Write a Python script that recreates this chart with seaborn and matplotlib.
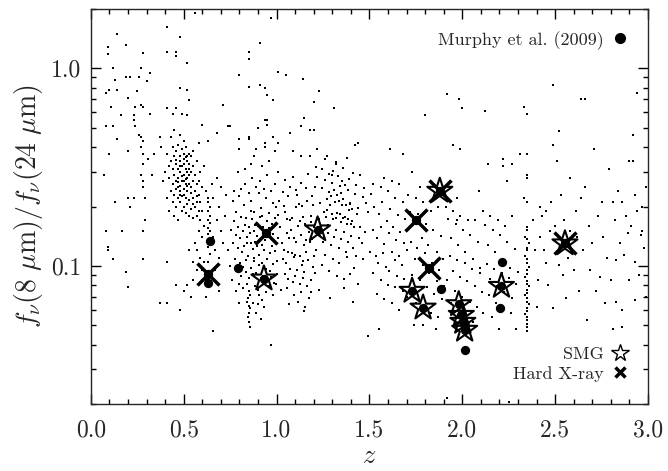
import matplotlib
matplotlib.use("Agg")
import matplotlib.pyplot as plt
from matplotlib.lines import Line2D
from matplotlib.ticker import MultipleLocator, FixedLocator, LogLocator, NullFormatter, FormatStrFormatter
import numpy as np
import pandas as pd
import seaborn as sns

# field galaxies (z, f8/f24)
field_lowz = [
    (0.09, 1.29), (0.14, 1.49), (0.09, 1.18), (0.19, 1.32), (0.12, 1.01), (0.08, 0.75), (0.10, 0.78), (0.13, 0.87), (0.14, 0.78), (0.11, 0.64),
    (0.08, 0.51), (0.12, 0.51), (0.10, 0.37), (0.07, 0.29), (0.13, 0.21), (0.08, 0.15), (0.17, 0.15), (0.16, 0.58), (0.14, 0.44), (0.19, 0.90),
    (0.21, 0.91), (0.20, 0.71), (0.25, 0.77), (0.26, 0.91), (0.28, 1.20), (0.27, 1.00), (0.30, 0.86), (0.32, 0.95), (0.24, 0.64), (0.27, 0.65),
    (0.28, 0.64), (0.23, 0.58), (0.23, 0.55), (0.24, 0.51), (0.26, 0.46), (0.27, 0.45), (0.28, 0.43), (0.27, 0.40), (0.28, 0.37), (0.28, 0.33),
    (0.27, 0.29), (0.28, 0.27), (0.28, 0.25), (0.29, 0.22), (0.20, 0.38), (0.20, 0.22), (0.23, 0.22), (0.21, 0.20), (0.29, 0.17), (0.32, 0.59),
    (0.31, 0.35), (0.34, 0.37), (0.33, 0.29), (0.09, 0.125), (0.09, 0.12), (0.12, 0.109), (0.19, 0.093), (0.20, 0.078), (0.28, 0.109), (0.28, 0.15),
    (0.37, 0.065), (0.41, 0.065), (0.41, 0.105),
]
field_upper_low = [
    (0.41, 1.63), (0.41, 1.21), (0.46, 1.21), (0.46, 1.15), (0.48, 1.45), (0.52, 1.06), (0.48, 0.80), (0.52, 0.78), (0.53, 0.69), (0.56, 1.90),
    (0.41, 0.63), (0.44, 0.59), (0.46, 0.63), (0.49, 0.59), (0.52, 0.58), (0.60, 0.52), (0.45, 0.49), (0.43, 0.45), (0.48, 0.46), (0.50, 0.43),
    (0.63, 0.43), (0.68, 0.47), (0.71, 0.65), (0.75, 0.51), (0.37, 0.45), (0.38, 0.40), (0.58, 0.42), (0.61, 0.32),
]
field_peak05 = [
    (0.44, 0.40), (0.46, 0.38), (0.47, 0.41), (0.49, 0.39), (0.51, 0.40), (0.53, 0.37), (0.45, 0.36), (0.48, 0.36), (0.50, 0.35), (0.52, 0.34),
    (0.54, 0.36), (0.43, 0.34), (0.46, 0.33), (0.47, 0.31), (0.49, 0.32), (0.51, 0.31), (0.53, 0.33), (0.55, 0.32), (0.44, 0.31), (0.42, 0.32),
    (0.45, 0.29), (0.47, 0.28), (0.48, 0.30), (0.50, 0.29), (0.52, 0.28), (0.54, 0.30), (0.56, 0.29), (0.46, 0.27), (0.49, 0.27), (0.51, 0.26),
    (0.53, 0.26), (0.55, 0.27), (0.57, 0.26), (0.44, 0.26), (0.47, 0.25), (0.48, 0.24), (0.50, 0.245), (0.52, 0.24), (0.54, 0.235), (0.56, 0.24),
    (0.45, 0.23), (0.47, 0.22), (0.49, 0.225), (0.51, 0.22), (0.53, 0.215), (0.55, 0.22), (0.57, 0.21), (0.58, 0.23), (0.48, 0.21), (0.50, 0.20),
    (0.52, 0.205), (0.54, 0.195), (0.56, 0.20), (0.58, 0.19), (0.59, 0.21), (0.46, 0.20), (0.49, 0.19), (0.51, 0.185), (0.53, 0.18), (0.55, 0.175),
    (0.57, 0.18), (0.59, 0.17), (0.60, 0.19), (0.48, 0.34), (0.50, 0.33), (0.46, 0.345), (0.52, 0.30), (0.49, 0.285), (0.51, 0.275), (0.47, 0.265),
    (0.53, 0.29), (0.50, 0.27), (0.48, 0.255), (0.52, 0.255), (0.46, 0.245), (0.54, 0.25), (0.50, 0.23), (0.48, 0.23), (0.55, 0.205), (0.57, 0.225),
    (0.41, 0.37), (0.40, 0.30), (0.39, 0.27), (0.42, 0.28), (0.43, 0.24), (0.41, 0.22), (0.44, 0.21), (0.42, 0.19), (0.45, 0.18), (0.47, 0.17),
    (0.58, 0.27), (0.60, 0.25), (0.59, 0.30), (0.57, 0.34), (0.55, 0.38), (0.50, 0.37), (0.52, 0.36), (0.48, 0.32), (0.51, 0.355), (0.53, 0.31),
]
field_z06 = [
    (0.63, 0.22), (0.63, 0.21), (0.64, 0.20), (0.63, 0.19), (0.64, 0.18), (0.63, 0.17), (0.64, 0.165), (0.63, 0.155), (0.64, 0.15), (0.63, 0.145),
    (0.63, 0.125), (0.64, 0.115), (0.63, 0.105), (0.62, 0.24), (0.61, 0.16), (0.60, 0.14), (0.58, 0.15), (0.56, 0.13), (0.57, 0.12), (0.59, 0.11),
    (0.55, 0.105), (0.57, 0.095), (0.55, 0.085), (0.61, 0.105), (0.60, 0.095), (0.62, 0.085), (0.66, 0.14), (0.67, 0.12), (0.68, 0.17), (0.69, 0.20),
    (0.66, 0.22), (0.70, 0.15), (0.71, 0.13), (0.69, 0.11), (0.67, 0.095), (0.72, 0.18), (0.73, 0.23), (0.70, 0.25), (0.65, 0.26), (0.68, 0.28),
    (0.52, 0.08), (0.54, 0.07), (0.50, 0.075), (0.46, 0.08), (0.48, 0.06), (0.60, 0.085), (0.69, 0.075), (0.66, 0.047), (0.62, 0.07), (0.53, 0.12),
]
field_z08 = [
    (0.763, 0.214), (0.784, 0.187), (0.797, 0.226), (0.823, 0.203), (0.838, 0.176), (0.864, 0.213), (0.877, 0.188), (0.903, 0.234), (0.917, 0.197), (0.944, 0.221),
    (0.957, 0.186), (0.982, 0.209), (0.996, 0.198), (0.772, 0.169), (0.793, 0.158), (0.806, 0.178), (0.829, 0.162), (0.853, 0.157), (0.868, 0.173), (0.886, 0.161),
    (0.912, 0.177), (0.928, 0.158), (0.951, 0.168), (0.974, 0.163), (0.991, 0.176), (0.757, 0.152), (0.781, 0.143), (0.803, 0.138), (0.817, 0.151), (0.842, 0.141),
    (0.858, 0.147), (0.883, 0.133), (0.897, 0.142), (0.923, 0.128), (0.938, 0.136), (0.962, 0.141), (0.978, 0.127), (1.007, 0.139), (0.768, 0.131), (0.792, 0.124),
    (0.814, 0.118), (0.827, 0.127), (0.846, 0.113), (0.873, 0.122), (0.893, 0.126), (0.906, 0.114), (0.932, 0.121), (0.948, 0.108), (0.967, 0.117), (0.993, 0.119),
    (0.778, 0.109), (0.802, 0.104), (0.819, 0.099), (0.837, 0.107), (0.861, 0.098), (0.878, 0.106), (0.904, 0.101), (0.919, 0.104), (0.941, 0.097), (0.963, 0.094),
    (0.979, 0.102), (1.003, 0.106), (0.788, 0.094), (0.809, 0.089), (0.833, 0.093), (0.852, 0.087), (0.871, 0.091), (0.891, 0.092), (0.914, 0.087), (0.927, 0.089),
    (0.954, 0.084), (0.971, 0.088), (0.988, 0.082), (0.798, 0.081), (0.818, 0.077), (0.839, 0.081), (0.851, 0.075), (0.856, 0.071), (0.848, 0.069), (0.843, 0.066),
    (0.852, 0.063), (0.857, 0.061), (0.849, 0.058), (0.844, 0.055), (0.853, 0.052), (0.858, 0.049), (0.884, 0.079), (0.898, 0.076), (0.908, 0.071), (0.922, 0.067),
    (0.902, 0.064), (0.934, 0.062), (0.943, 0.074), (0.958, 0.079), (0.983, 0.071), (0.998, 0.081), (0.892, 0.058), (0.918, 0.054), (0.968, 0.040), (0.874, 0.065),
    (0.75, 0.10), (0.74, 0.12), (0.76, 0.085), (0.78, 0.075), (0.80, 0.065), (0.77, 0.24), (0.81, 0.245), (0.85, 0.235), (0.89, 0.25), (0.93, 0.245),
    (0.97, 0.24), (0.83, 0.26), (0.87, 0.28), (0.91, 0.27), (0.95, 0.29), (0.99, 0.26), (0.79, 0.30), (0.92, 0.32), (0.96, 0.34), (0.88, 0.36),
    (0.94, 0.40), (0.98, 0.45), (0.90, 0.50), (0.95, 0.55), (0.85, 0.44), (0.80, 0.39), (0.86, 0.33), (0.83, 0.31), (1.01, 0.30), (0.99, 0.38),
    (0.86, 0.19), (0.88, 0.15), (0.90, 0.16), (0.92, 0.18), (0.94, 0.15), (0.96, 0.155), (0.98, 0.145), (0.84, 0.13), (0.86, 0.13), (0.88, 0.11),
]
field_upper_mid = [
    (0.80, 0.93), (0.85, 1.11), (0.85, 1.21), (0.91, 1.34), (0.97, 1.79), (1.01, 0.96), (1.05, 0.93), (0.85, 0.81), (0.91, 0.82), (0.94, 0.80),
    (0.98, 0.69), (0.95, 0.73), (1.14, 0.88), (1.20, 0.68), (1.23, 0.77), (1.15, 0.56), (1.13, 0.51), (1.18, 0.49), (1.20, 0.49), (1.31, 0.63),
    (0.74, 0.51), (0.80, 0.44), (0.85, 0.45), (0.89, 0.39), (0.94, 0.55), (0.95, 0.52), (0.94, 0.42), (1.01, 0.42), (1.07, 0.47), (1.09, 0.38),
    (1.13, 0.36), (1.18, 0.36), (1.22, 0.39), (1.27, 0.36), (1.30, 0.29), (1.32, 0.33),
]
field_z10 = [
    (1.013, 0.214), (1.047, 0.187), (1.062, 0.226), (1.085, 0.176), (1.103, 0.198), (1.128, 0.168), (1.137, 0.201), (1.164, 0.213), (1.186, 0.179), (1.021, 0.158),
    (1.058, 0.147), (1.071, 0.171), (1.092, 0.138), (1.116, 0.159), (1.133, 0.143), (1.152, 0.163), (1.174, 0.149), (1.193, 0.137), (1.028, 0.131), (1.039, 0.121),
    (1.066, 0.139), (1.081, 0.117), (1.107, 0.133), (1.124, 0.112), (1.146, 0.128), (1.158, 0.118), (1.179, 0.133), (1.034, 0.108), (1.052, 0.103), (1.074, 0.097),
    (1.096, 0.111), (1.112, 0.095), (1.138, 0.101), (1.149, 0.093), (1.171, 0.107), (1.197, 0.099), (1.043, 0.091), (1.061, 0.086), (1.088, 0.083), (1.101, 0.089),
    (1.127, 0.081), (1.142, 0.087), (1.163, 0.079), (1.184, 0.085), (1.054, 0.077), (1.093, 0.071), (1.132, 0.074), (1.176, 0.069), (1.068, 0.064), (1.153, 0.062),
    (1.036, 0.238), (1.073, 0.252), (1.109, 0.229), (1.156, 0.247), (1.191, 0.226), (1.048, 0.272), (1.087, 0.283), (1.134, 0.262), (1.172, 0.291), (1.008, 0.182),
    (1.098, 0.114), (1.063, 0.118), (1.141, 0.106), (1.203, 0.112), (1.206, 0.092), (1.201, 0.158), (1.198, 0.203), (1.119, 0.207), (1.041, 0.202), (1.079, 0.153),
    (1.161, 0.136), (1.183, 0.167), (1.004, 0.091), (1.025, 0.076), (1.114, 0.066), (1.188, 0.074), (1.057, 0.172), (1.143, 0.178), (1.104, 0.243), (1.148, 0.059),
]
field_z12 = [
    (1.218, 0.283), (1.243, 0.247), (1.262, 0.274), (1.284, 0.236), (1.297, 0.262), (1.323, 0.228), (1.341, 0.253), (1.357, 0.218), (1.384, 0.243), (1.398, 0.209),
    (1.424, 0.232), (1.437, 0.197), (1.463, 0.224), (1.232, 0.208), (1.256, 0.188), (1.273, 0.219), (1.288, 0.203), (1.314, 0.212), (1.327, 0.186), (1.353, 0.204),
    (1.366, 0.178), (1.392, 0.193), (1.407, 0.168), (1.433, 0.183), (1.452, 0.158), (1.226, 0.172), (1.238, 0.157), (1.267, 0.177), (1.279, 0.162), (1.306, 0.173),
    (1.318, 0.152), (1.347, 0.167), (1.362, 0.148), (1.378, 0.163), (1.403, 0.142), (1.417, 0.157), (1.446, 0.138), (1.234, 0.142), (1.251, 0.133), (1.276, 0.147),
    (1.293, 0.128), (1.309, 0.141), (1.336, 0.123), (1.348, 0.137), (1.374, 0.118), (1.386, 0.132), (1.413, 0.124), (1.428, 0.113), (1.214, 0.121), (1.263, 0.114),
    (1.302, 0.108), (1.338, 0.104), (1.381, 0.111), (1.419, 0.098), (1.247, 0.101), (1.284, 0.094), (1.326, 0.089), (1.361, 0.086), (1.396, 0.091), (1.441, 0.081),
    (1.303, 0.302), (1.331, 0.287), (1.359, 0.314), (1.388, 0.277), (1.412, 0.297), (1.352, 0.268), (1.281, 0.292), (1.247, 0.309), (1.429, 0.258), (1.472, 0.247),
    (1.312, 0.243), (1.346, 0.234), (1.371, 0.257), (1.334, 0.214), (1.394, 0.206), (1.291, 0.226), (1.269, 0.193), (1.408, 0.194), (1.373, 0.203), (1.339, 0.183),
    (1.298, 0.184), (1.358, 0.174), (1.321, 0.176), (1.383, 0.172), (1.401, 0.163), (1.458, 0.131), (1.477, 0.149), (1.468, 0.109), (1.493, 0.188), (1.209, 0.252),
    (1.231, 0.076), (1.364, 0.077), (1.286, 0.069), (1.411, 0.066), (1.318, 0.338), (1.262, 0.347), (1.448, 0.288), (1.379, 0.352), (1.212, 0.318), (1.482, 0.208),
]
field_z15_23 = [
    (1.508, 0.232), (1.527, 0.198), (1.553, 0.183), (1.568, 0.212), (1.594, 0.168), (1.612, 0.194), (1.626, 0.157), (1.654, 0.181), (1.667, 0.148), (1.693, 0.172),
    (1.517, 0.153), (1.542, 0.138), (1.561, 0.157), (1.577, 0.129), (1.603, 0.147), (1.619, 0.118), (1.642, 0.136), (1.658, 0.113), (1.684, 0.131), (1.702, 0.121),
    (1.504, 0.118), (1.533, 0.112), (1.548, 0.103), (1.574, 0.116), (1.592, 0.099), (1.608, 0.094), (1.637, 0.107), (1.649, 0.089), (1.673, 0.101), (1.688, 0.086),
    (1.52, 0.092), (1.56, 0.085), (1.60, 0.08), (1.64, 0.078), (1.68, 0.075), (1.54, 0.072), (1.58, 0.068), (1.62, 0.065), (1.66, 0.06), (1.70, 0.07),
    (1.52, 0.26), (1.56, 0.25), (1.60, 0.24), (1.64, 0.22), (1.68, 0.21), (1.58, 0.28), (1.62, 0.27), (1.66, 0.26), (1.55, 0.048), (1.49, 0.044),
    (1.716, 0.188), (1.737, 0.162), (1.763, 0.183), (1.781, 0.139), (1.804, 0.164), (1.818, 0.128), (1.843, 0.152), (1.862, 0.118), (1.884, 0.142), (1.897, 0.109),
    (1.724, 0.132), (1.746, 0.108), (1.757, 0.123), (1.786, 0.101), (1.797, 0.117), (1.823, 0.092), (1.838, 0.103), (1.866, 0.084), (1.873, 0.096), (1.904, 0.079),
    (1.73, 0.09), (1.77, 0.085), (1.81, 0.078), (1.85, 0.072), (1.89, 0.068), (1.75, 0.065), (1.79, 0.06), (1.83, 0.058), (1.87, 0.055), (1.74, 0.050),
    (1.923, 0.172), (1.938, 0.138), (1.964, 0.163), (1.977, 0.128), (2.004, 0.152), (2.017, 0.118), (2.043, 0.143), (2.058, 0.108), (2.084, 0.132), (2.097, 0.098),
    (1.934, 0.112), (1.948, 0.094), (1.972, 0.107), (1.987, 0.088), (2.013, 0.103), (2.027, 0.084), (2.053, 0.097), (2.066, 0.079), (2.093, 0.092), (2.108, 0.074),
    (1.92, 0.085), (1.96, 0.075), (2.00, 0.07), (2.04, 0.066), (2.08, 0.062), (1.94, 0.065), (1.98, 0.058), (2.02, 0.055), (2.06, 0.052), (1.92, 0.0215),
    (2.123, 0.162), (2.137, 0.128), (2.164, 0.152), (2.176, 0.118), (2.204, 0.143), (2.218, 0.108), (2.243, 0.133), (2.257, 0.098), (2.284, 0.122), (2.298, 0.093),
    (2.132, 0.102), (2.147, 0.086), (2.173, 0.097), (2.186, 0.079), (2.212, 0.092), (2.227, 0.074), (2.253, 0.087), (2.268, 0.069), (2.292, 0.081), (2.142, 0.071),
    (2.18, 0.065), (2.22, 0.06), (2.26, 0.058), (2.29, 0.048), (2.20, 0.048), (2.25, 0.0206), (2.16, 0.055), (2.11, 0.058), (1.86, 0.048), (1.79, 0.05),
    (1.71, 0.23), (1.75, 0.22), (1.79, 0.21), (1.83, 0.19), (1.87, 0.20), (1.91, 0.20), (1.95, 0.19), (1.99, 0.18), (2.03, 0.17), (2.07, 0.17),
    (2.11, 0.19), (2.15, 0.18), (2.19, 0.17), (2.23, 0.16), (2.27, 0.18), (2.09, 0.24), (2.24, 0.27), (1.77, 0.25), (1.73, 0.30), (1.97, 0.22),
]
field_upper_high = [
    (1.92, 0.74), (1.98, 0.70), (2.00, 0.63), (1.80, 0.58), (2.12, 0.61), (2.33, 0.64), (2.35, 0.59), (2.49, 0.82), (2.52, 0.48), (2.64, 0.70),
    (2.66, 0.70), (2.94, 0.75), (2.92, 0.46), (1.31, 0.63), (1.42, 0.41), (1.44, 0.42), (1.61, 0.39), (1.68, 0.37), (1.95, 0.41), (1.99, 0.39),
    (2.35, 0.37), (2.31, 0.37), (2.49, 0.41), (2.51, 0.34), (2.71, 0.39), (2.90, 0.34), (2.92, 0.34), (2.99, 0.25), (2.14, 0.33), (2.22, 0.35),
    (2.27, 0.33), (2.22, 0.32), (2.35, 0.28), (2.35, 0.29), (2.58, 0.28), (2.66, 0.25), (2.79, 0.31), (2.81, 0.21), (2.86, 0.21), (2.97, 0.20),
    (2.42, 0.20), (2.45, 0.19), (2.33, 0.22), (2.35, 0.21), (2.24, 0.27), (2.07, 0.17), (1.97, 0.17), (1.91, 0.20),
]
field_spike235 = [
    (2.35, 0.158), (2.35, 0.152), (2.34, 0.141), (2.35, 0.137), (2.36, 0.131), (2.35, 0.124), (2.35, 0.121), (2.34, 0.113), (2.35, 0.109), (2.35, 0.104),
    (2.36, 0.099), (2.35, 0.096), (2.35, 0.091), (2.34, 0.088), (2.35, 0.084), (2.35, 0.081), (2.36, 0.079), (2.35, 0.076), (2.35, 0.073), (2.34, 0.071),
    (2.35, 0.069), (2.35, 0.066), (2.36, 0.064), (2.35, 0.061), (2.35, 0.059), (2.34, 0.057), (2.35, 0.055), (2.35, 0.053), (2.35, 0.051), (2.35, 0.049),
    (2.35, 0.047),
]
field_z24_30 = [
    (2.67, 0.053), (2.81, 0.048), (2.86, 0.049), (2.56, 0.069), (2.40, 0.062), (2.49, 0.061), (2.86, 0.060), (2.93, 0.067), (2.83, 0.066), (2.74, 0.088),
    (2.80, 0.085), (2.93, 0.105), (2.87, 0.114), (2.83, 0.107), (2.63, 0.075), (2.60, 0.095), (2.45, 0.103), (2.52, 0.101), (2.98, 0.123), (2.96, 0.143),
    (2.89, 0.147), (2.42, 0.14), (2.44, 0.12), (2.47, 0.15), (2.50, 0.16), (2.55, 0.17), (2.58, 0.15), (2.62, 0.14), (2.65, 0.12), (2.68, 0.16),
    (2.70, 0.13), (2.73, 0.18), (2.76, 0.14), (2.78, 0.11), (2.82, 0.17), (2.85, 0.13), (2.88, 0.18), (2.91, 0.16), (2.94, 0.19), (2.97, 0.15),
    (2.41, 0.085), (2.46, 0.08), (2.54, 0.09), (2.57, 0.11), (2.69, 0.095), (2.72, 0.075), (2.77, 0.065), (2.90, 0.085), (2.95, 0.09), (2.99, 0.07),
    (2.43, 0.18), (2.48, 0.21), (2.53, 0.23), (2.61, 0.19), (2.64, 0.22), (2.75, 0.21), (2.84, 0.24), (2.93, 0.23), (2.38, 0.17), (2.39, 0.12),
]

# Murphy et al. (2009) sample, with SMG / hard X-ray flags
murphy_z = [0.642, 0.633, 0.791, 1.883, 2.214, 2.203, 2.013,
            0.633, 0.943, 1.750, 1.821, 1.879, 2.553,
            0.932, 1.221, 1.730, 1.789, 1.981, 1.995, 2.003, 2.013, 2.211]
murphy_ratio = [0.134, 0.0818, 0.0974, 0.0767, 0.105, 0.0611, 0.0375,
                0.0911, 0.147, 0.171, 0.098, 0.240, 0.130,
                0.0863, 0.153, 0.0748, 0.0615, 0.0640, 0.0565, 0.0521, 0.0475, 0.0792]
murphy_smg = [False] * 7 + [False, False, False, False, True, True] + [True] * 9
murphy_xray = [False] * 7 + [True] * 6 + [False] * 9

field = pd.DataFrame(field_lowz + field_upper_low + field_peak05 + field_z06 + field_z08 + field_upper_mid
                     + field_z10 + field_z12 + field_z15_23 + field_upper_high + field_spike235 + field_z24_30,
                     columns=["z", "ratio"])
murphy = pd.DataFrame({"z": murphy_z, "ratio": murphy_ratio, "smg": murphy_smg, "xray": murphy_xray})

sns.set_style("ticks")
plt.rcParams["font.family"] = "cmr10"
plt.rcParams["mathtext.fontset"] = "cm"
plt.rcParams["axes.formatter.use_mathtext"] = True
plt.rcParams["axes.linewidth"] = 1.0

fig = plt.figure(figsize=(6.68, 4.71), dpi=100)
ax = fig.add_axes([0.136, 0.142, 0.834, 0.839])

sns.scatterplot(data=field, x="z", y="ratio", color="black", marker="s", s=2.5, linewidth=0, ax=ax)
sns.scatterplot(data=murphy, x="z", y="ratio", color="black", s=45, linewidth=0, ax=ax)
sns.scatterplot(data=murphy[murphy.smg], x="z", y="ratio", marker="*", s=360,
                facecolor="none", edgecolor="black", linewidth=1.5, ax=ax)
sns.scatterplot(data=murphy[murphy.xray], x="z", y="ratio", marker="x", s=250,
                color="black", linewidth=2.5, ax=ax)

ax.set_yscale("log")
ax.set_xlim(0, 3)
ax.set_ylim(0.02, 2)
ax.xaxis.set_major_locator(MultipleLocator(0.5))
ax.xaxis.set_minor_locator(MultipleLocator(0.1))
ax.xaxis.set_major_formatter(FormatStrFormatter("%.1f"))
ax.yaxis.set_major_locator(FixedLocator([0.1, 1.0]))
ax.yaxis.set_major_formatter(FormatStrFormatter("%.1f"))
ax.yaxis.set_minor_locator(LogLocator(base=10, subs=np.arange(2, 10)))
ax.yaxis.set_minor_formatter(NullFormatter())
ax.tick_params(which="both", direction="in", top=True, right=True, width=1.0, color="black")
ax.tick_params(which="major", length=7, labelsize=17)
ax.tick_params(axis="x", which="major", pad=11)
ax.tick_params(axis="y", which="major", pad=7)
ax.tick_params(which="minor", length=3.5)

ax.set_xlabel("$z$", fontsize=19, labelpad=2)
ax.set_ylabel(r"$f_\nu(8\ \mu\mathrm{m})/f_\nu(24\ \mu\mathrm{m})$", fontsize=20, labelpad=4)

murphy_handle = Line2D([], [], marker="o", ls="", color="black", ms=7)
leg1 = ax.legend([murphy_handle], ["Murphy et al. (2009)"], loc="center right", bbox_to_anchor=(0.963, 0.921),
                 frameon=False, markerfirst=False, handlelength=0.8, handletextpad=0.5,
                 borderpad=0, borderaxespad=0, fontsize=13)
ax.add_artist(leg1)
smg_handle = Line2D([], [], marker="*", ls="", mfc="none", mec="black", mew=1.0, ms=13)
xray_handle = Line2D([], [], marker="x", ls="", color="black", mew=2.5, ms=7)
ax.legend([smg_handle, xray_handle], ["SMG", "Hard X-ray"], loc="center right", bbox_to_anchor=(0.963, 0.101),
          frameon=False, markerfirst=False, handlelength=0.8, handletextpad=0.5, labelspacing=0.2,
          borderpad=0, borderaxespad=0, fontsize=13)

fig.savefig("out.png", dpi=100)
